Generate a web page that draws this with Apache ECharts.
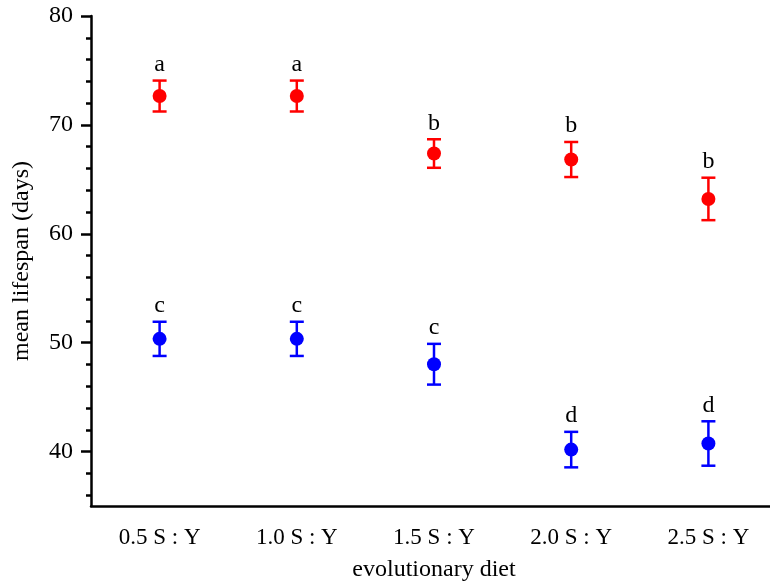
<!DOCTYPE html>
<html>
<head>
<meta charset="utf-8">
<script src="https://cdn.jsdelivr.net/npm/echarts@6/dist/echarts.min.js"></script>
<style>
  html, body { margin: 0; padding: 0; background: #fff; }
  #chart { width: 770px; height: 581px; }
</style>
</head>
<body>
<div id="chart"></div>
<script>
// data
const categories = ['0.5 S : Y', '1.0 S : Y', '1.5 S : Y', '2.0 S : Y', '2.5 S : Y'];
const redMean = [72.65, 72.65, 67.37, 66.82, 63.2];
const redErr = [1.42, 1.42, 1.31, 1.61, 1.95];
const redLetters = ['a', 'a', 'b', 'b', 'b'];
const blueMean = [50.35, 50.35, 48.02, 40.18, 40.74];
const blueErr = [1.57, 1.57, 1.87, 1.63, 2.04];
const blueLetters = ['c', 'c', 'c', 'd', 'd'];
const majorTicks = [40, 50, 60, 70, 80];
const minorTicks = [36, 38, 42, 44, 46, 48, 52, 54, 56, 58, 62, 64, 66, 68, 72, 74, 76, 78];

const FONT = '"Liberation Serif", "Times New Roman", serif';

let chartDom = document.getElementById('chart');
let myChart = echarts.init(chartDom);

// error bar + letter above it
function errorBars(mean, err, letters, color) {
  return {
    type: 'custom',
    z: 3,
    data: mean.map((m, i) => [i, m - err[i], m + err[i]]),
    renderItem: function (params, api) {
      let lo = api.coord([api.value(0), api.value(1)]);
      let hi = api.coord([api.value(0), api.value(2)]);
      let w = 7;
      let st = { stroke: color, lineWidth: 2.5 };
      return {
        type: 'group',
        children: [
          { type: 'line', shape: { x1: lo[0], y1: lo[1], x2: hi[0], y2: hi[1] }, style: st },
          { type: 'line', shape: { x1: lo[0] - w, y1: lo[1], x2: lo[0] + w, y2: lo[1] }, style: st },
          { type: 'line', shape: { x1: hi[0] - w, y1: hi[1], x2: hi[0] + w, y2: hi[1] }, style: st },
          {
            type: 'text',
            style: {
              x: hi[0], y: hi[1] - 4,
              text: letters[params.dataIndex],
              fill: '#000',
              font: '24px ' + FONT,
              align: 'center',
              verticalAlign: 'bottom'
            }
          }
        ]
      };
    }
  };
}

let option = {
  animation: false,
  grid: { left: 91, right: -7, top: 16, bottom: 75, outerBoundsMode: 'none', containLabel: false },
  xAxis: {
    type: 'category',
    data: categories,
    name: 'evolutionary diet',
    nameLocation: 'middle',
    nameGap: 52,
    nameTextStyle: { color: '#000', fontSize: 24, fontFamily: FONT },
    axisLine: { lineStyle: { color: '#000', width: 2.5 } },
    axisTick: { alignWithLabel: true, length: 10, lineStyle: { color: '#000', width: 2.5 } },
    axisLabel: { color: '#000', fontSize: 23, fontFamily: FONT, margin: 20 },
    splitLine: { show: false }
  },
  yAxis: [
    {
      type: 'value',
      min: 35,
      max: 80,
      name: 'mean lifespan (days)',
      nameLocation: 'middle',
      nameGap: 57,
      nameTextStyle: { color: '#000', fontSize: 24, fontFamily: FONT },
      axisLine: { show: true, lineStyle: { color: '#000', width: 2.5 } },
      axisTick: { show: true, customValues: majorTicks, length: 10, lineStyle: { color: '#000', width: 2.5 } },
      axisLabel: { customValues: majorTicks, color: '#000', fontSize: 24, fontFamily: FONT, margin: 18 },
      splitLine: { show: false }
    },
    {
      type: 'value',
      min: 35,
      max: 80,
      position: 'left',
      axisLine: { show: false },
      axisTick: { show: true, customValues: minorTicks, length: 5, lineStyle: { color: '#000', width: 2.5 } },
      axisLabel: { show: false },
      splitLine: { show: false }
    }
  ],
  series: [
    errorBars(redMean, redErr, redLetters, '#ff0000'),
    errorBars(blueMean, blueErr, blueLetters, '#0000ff'),
    {
      type: 'scatter',
      z: 4,
      symbol: 'circle',
      symbolSize: 14,
      itemStyle: { color: '#ff0000', opacity: 1 },
      data: redMean
    },
    {
      type: 'scatter',
      z: 4,
      symbol: 'circle',
      symbolSize: 14,
      itemStyle: { color: '#0000ff', opacity: 1 },
      data: blueMean
    }
  ]
};
myChart.setOption(option);
</script>
</body>
</html>
